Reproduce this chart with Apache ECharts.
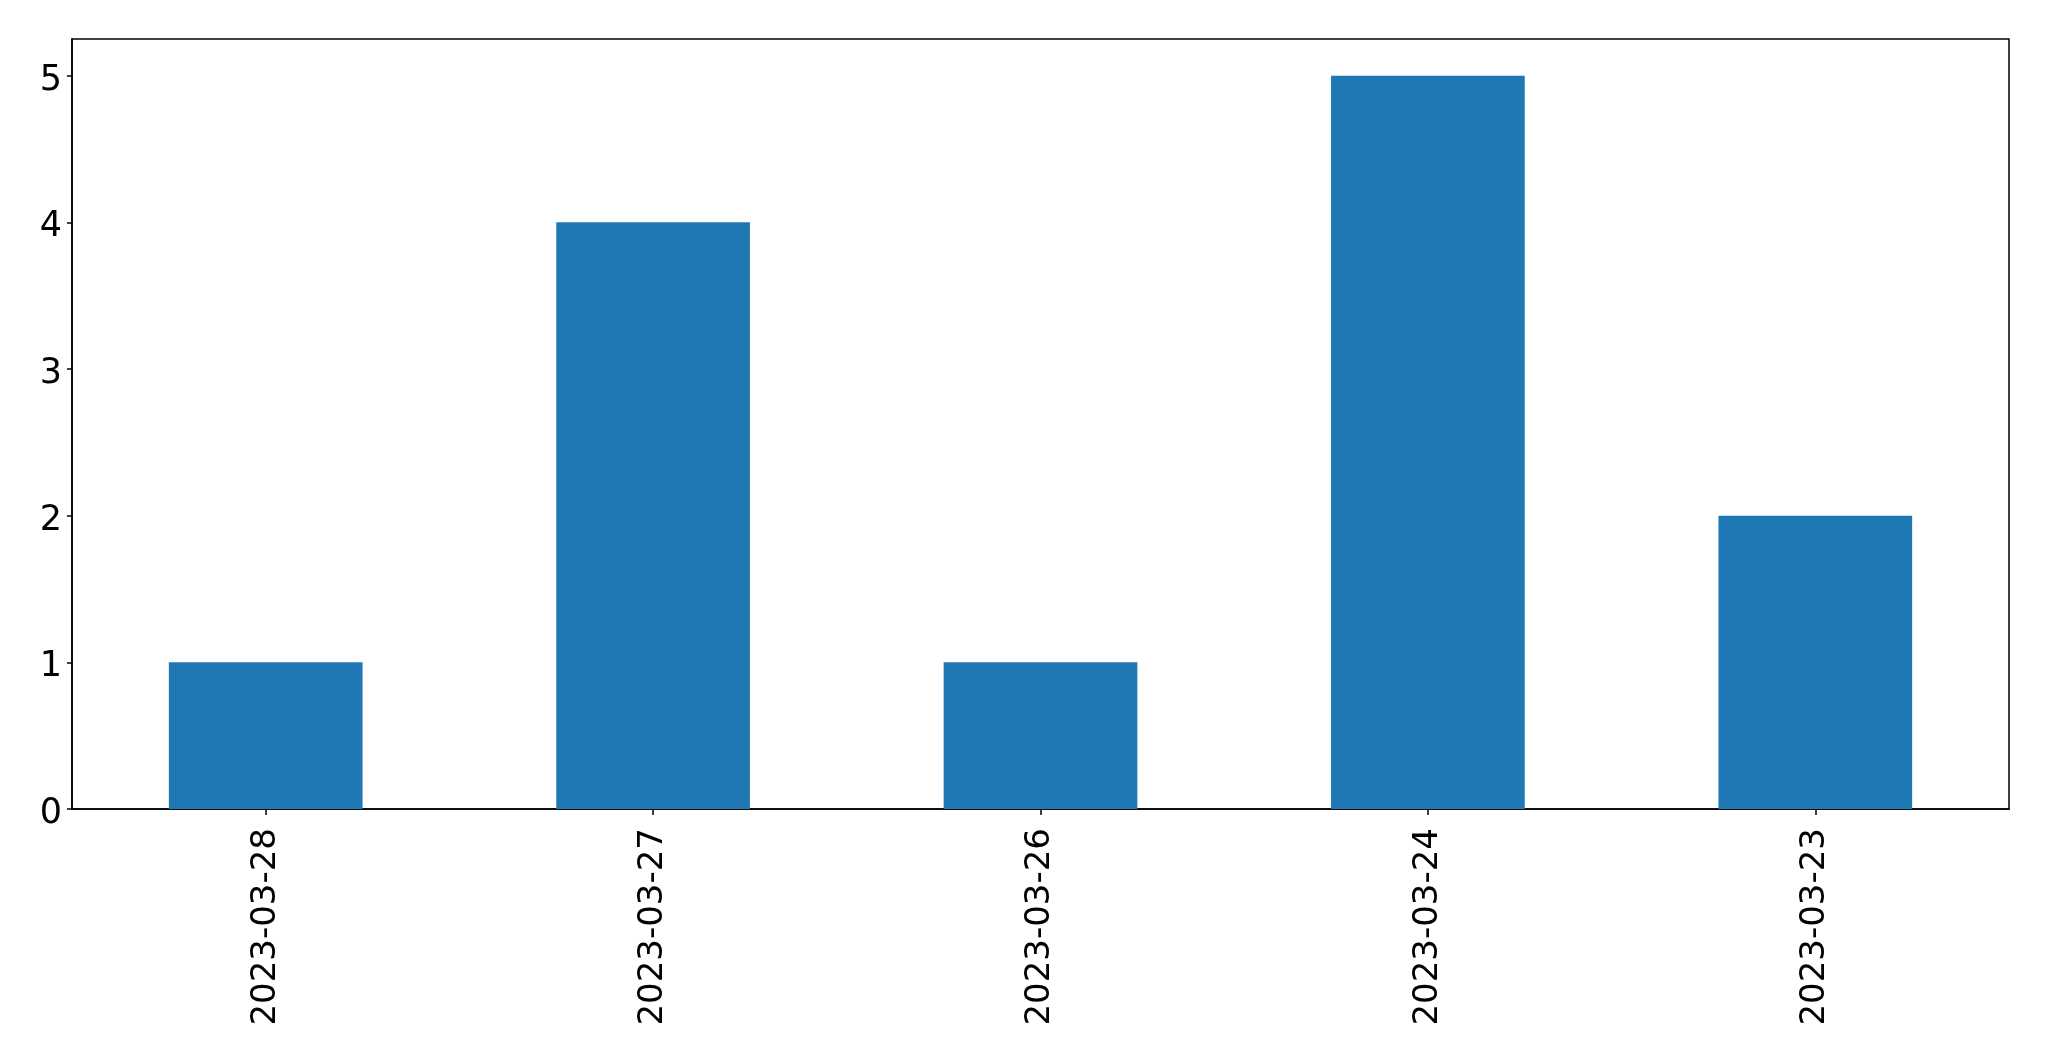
<!DOCTYPE html>
<html>
<head>
<meta charset="utf-8">
<style>
html,body{margin:0;padding:0;background:#fff;}
#chart{width:2049px;height:1061px;}
</style>
<script src="https://cdn.jsdelivr.net/npm/echarts@6/dist/echarts.min.js"></script>
</head>
<body>
<div id="chart"></div>
<script>
const categories = ['2023-03-28', '2023-03-27', '2023-03-26', '2023-03-24', '2023-03-23'];
const values = [1, 4, 1, 5, 2];
const yTicks = [0, 1, 2, 3, 4, 5];

const chart = echarts.init(document.getElementById('chart'), null, {renderer: 'canvas'});
const font = 'DejaVu Sans';
chart.setOption({
  animation: false,
  backgroundColor: '#ffffff',
  grid: {left: 72, top: 39, width: 1937, height: 770, show: true, borderColor: '#000', borderWidth: 1.5, backgroundColor: 'transparent'},
  xAxis: {
    type: 'category',
    data: categories,
    boundaryGap: true,
    axisLine: {show: true, lineStyle: {color: '#000', width: 1.5}},
    axisTick: {show: true, alignWithLabel: true, length: 6, lineStyle: {color: '#000', width: 1.5}},
    axisLabel: {rotate: 90, margin: 19, color: '#000', fontSize: 34, fontFamily: font},
    splitLine: {show: false}
  },
  yAxis: {
    type: 'value',
    min: 0,
    max: 5.25,
    interval: 1,
    axisLine: {show: true, lineStyle: {color: '#000', width: 1.5}},
    axisTick: {show: true, length: 5, lineStyle: {color: '#000', width: 1.5}, customValues: yTicks},
    axisLabel: {margin: 10, color: '#000', fontSize: 35, fontFamily: font, customValues: yTicks,
      formatter: function (v) { return '{a|' + v + '}'; },
      rich: {a: {fontSize: 35, fontFamily: font, color: '#000', padding: [10, 0, 0, 0]}}},
    splitLine: {show: false}
  },
  series: [{
    type: 'bar',
    data: values,
    barWidth: '50%',
    itemStyle: {color: '#1f77b4'}
  }]
});
</script>
</body>
</html>
